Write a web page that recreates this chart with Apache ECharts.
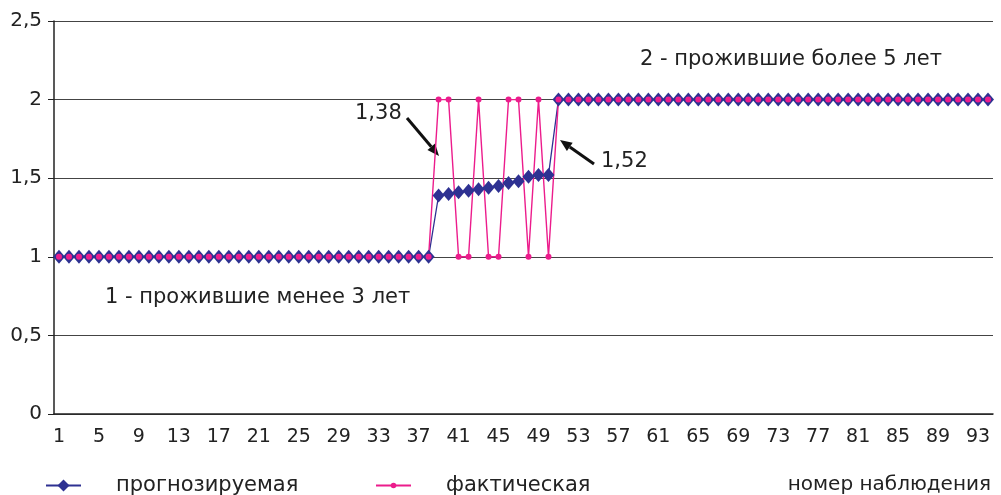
<!doctype html>
<html>

<head>
  <meta charset="utf-8">
  <title>прогнозируемая / фактическая</title>
  <script src="https://cdn.jsdelivr.net/npm/echarts@6/dist/echarts.min.js"></script>
  <style>
    html,
    body {
      width: 100%;
      height: 100%;
      background-color: #fff;
      padding: 0;
      margin: 0;
    }

    #main {
      width: 1001px;
      height: 495px;
    }
  </style>
</head>

<body>
  <div id="main"></div>
</body>

<script type="text/javascript">
  // номера наблюдений 1..94
  var categories = [];
  for (var n = 1; n <= 94; n++) categories.push(String(n));

  // прогнозируемая
  var predicted = [
    1, 1, 1, 1, 1, 1, 1, 1, 1, 1, 1, 1, 1, 1, 1, 1, 1, 1, 1, 1,
    1, 1, 1, 1, 1, 1, 1, 1, 1, 1, 1, 1, 1, 1, 1, 1, 1, 1,
    1.39, 1.40, 1.41, 1.42, 1.43, 1.44, 1.45, 1.47, 1.48, 1.51, 1.52, 1.52,
    2, 2, 2, 2, 2, 2, 2, 2, 2, 2, 2, 2, 2, 2, 2, 2, 2, 2, 2, 2, 2, 2,
    2, 2, 2, 2, 2, 2, 2, 2, 2, 2, 2, 2, 2, 2, 2, 2, 2, 2, 2, 2, 2, 2
  ];

  // фактическая
  var actual = [
    1, 1, 1, 1, 1, 1, 1, 1, 1, 1, 1, 1, 1, 1, 1, 1, 1, 1, 1, 1,
    1, 1, 1, 1, 1, 1, 1, 1, 1, 1, 1, 1, 1, 1, 1, 1, 1, 1,
    2, 2, 1, 1, 2, 1, 1, 2, 2, 1, 2, 1,
    2, 2, 2, 2, 2, 2, 2, 2, 2, 2, 2, 2, 2, 2, 2, 2, 2, 2, 2, 2, 2, 2,
    2, 2, 2, 2, 2, 2, 2, 2, 2, 2, 2, 2, 2, 2, 2, 2, 2, 2, 2, 2, 2, 2
  ];

  var font = 'DejaVu Sans, sans-serif';
  var blue = '#2e3192';
  var pink = '#ec1c8c';

  var legendText = { fontSize: 21, color: '#222', padding: [0, 0, 0, 30] };

  var option = {
    animation: false,
    textStyle: { fontFamily: font },
    grid: { left: 54, right: 8, top: 21, bottom: 81 },
    // две легенды, чтобы размер маркера был разный
    legend: [
      {
        left: 40,
        top: 470,
        itemWidth: 35,
        itemHeight: 15,
        textStyle: legendText,
        data: ['прогнозируемая']
      },
      {
        left: 370,
        top: 470,
        itemWidth: 35,
        itemHeight: 7,
        textStyle: legendText,
        data: ['фактическая']
      }
    ],
    xAxis: {
      type: 'category',
      data: categories,
      boundaryGap: true,
      axisLine: { lineStyle: { color: '#222', width: 1.5 } },
      axisTick: { interval: 0, length: 6, lineStyle: { color: '#222' } },
      axisLabel: { interval: 3, color: '#222', fontSize: 19, margin: 14 },
      splitLine: { show: false }
    },
    yAxis: {
      type: 'value',
      min: 0,
      max: 2.5,
      interval: 0.5,
      axisLine: { show: true, lineStyle: { color: '#222', width: 1.5 } },
      axisTick: { show: true, length: 6, lineStyle: { color: '#222' } },
      axisLabel: {
        color: '#222', fontSize: 20, margin: 12,
        formatter: function (v) { return String(v).replace('.', ','); }
      },
      splitLine: { lineStyle: { color: '#444', width: 1.2 } }
    },
    series: [
      {
        name: 'прогнозируемая',
        type: 'line',
        data: predicted,
        symbol: 'diamond',
        symbolSize: [12, 14],
        showAllSymbol: true,
        lineStyle: { color: blue, width: 1.3 },
        itemStyle: { color: blue }
      },
      {
        name: 'фактическая',
        type: 'line',
        data: actual,
        symbol: 'circle',
        symbolSize: 6,
        showAllSymbol: true,
        lineStyle: { color: pink, width: 1.4 },
        itemStyle: { color: pink }
      }
    ]
  };

  var chart = echarts.init(document.getElementById('main'));
  chart.setOption(option);

  // стрелка с наконечником
  function arrow(x1, y1, x2, y2) {
    var ang = Math.atan2(y2 - y1, x2 - x1);
    var L = 12, W = 5;
    var bx = x2 - L * Math.cos(ang), by = y2 - L * Math.sin(ang);
    return [
      {
        type: 'line',
        shape: { x1: x1, y1: y1, x2: bx, y2: by },
        style: { stroke: '#111', lineWidth: 3 }
      },
      {
        type: 'polygon',
        shape: {
          points: [
            [x2, y2],
            [bx + W * Math.sin(ang), by - W * Math.cos(ang)],
            [bx - W * Math.sin(ang), by + W * Math.cos(ang)]
          ]
        },
        style: { fill: '#111' }
      }
    ];
  }

  function txt(s, size) {
    return { text: s, fill: '#222', font: size + 'px ' + font };
  }
  var graphics = [
    { type: 'text', left: 640, top: 49, style: txt('2 - прожившие более 5 лет', 21) },
    { type: 'text', left: 105, top: 287, style: txt('1 - прожившие менее 3 лет', 21) },
    { type: 'text', left: 355, top: 103, style: txt('1,38', 21) },
    { type: 'text', left: 601, top: 151, style: txt('1,52', 21) },
    { type: 'text', right: 10, top: 475, style: txt('номер наблюдения', 20) }
  ];
  graphics = graphics.concat(arrow(407, 118, 439, 156), arrow(594, 164, 560, 140));
  chart.setOption({ graphic: graphics });
</script>

</html>
